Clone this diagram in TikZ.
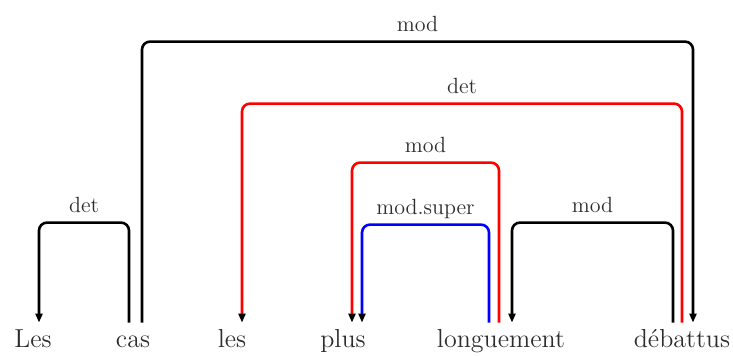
\documentclass[tikz,border=0pt]{standalone}
\usepackage{tikz}
\usetikzlibrary{arrows.meta,positioning}
\definecolor{deptext}{RGB}{45,45,45}
\definecolor{depred}{RGB}{255,0,0}
\definecolor{depblue}{RGB}{0,0,255}

\begin{document}
\begin{tikzpicture}[x=0.5pt, y=-0.5pt,
    word/.style={anchor=base, inner sep=0pt, text height=12.5pt, text=deptext,
                 font=\fontsize{13}{15}\selectfont},
    rel/.style={anchor=base, yshift=5pt, inner sep=0pt, text=deptext,
                font=\fontsize{11}{13}\selectfont},
    arc/.style={line width=1.3pt, rounded corners=4pt,
                -{Triangle[width=3.5pt,length=4.5pt,color=black]}}]

    \useasboundingbox (0,0) rectangle (733,356);

    %% Words
    \node[word] (les1) at (33,348)  {Les};
    \node[word] (cas)  at (133,348) {cas};
    \node[word] (les2) at (232,348) {les};
    \node[word] (plus) at (343,348) {plus};
    \node[word] (longuement) at (501,348) {longuement};
    \node[word] (debattus)   at (682,348) {débattus};

    %% Dependencies
    \draw[arc] ([xshift=-2pt]cas.north) -- ++(0,-100)
      -| node[rel, pos=0.25] (lbdet) {det} ([xshift=3pt]les1.north);
    \draw[arc] ([xshift=4.5pt]cas.north) -- ++(0,-281)
      -| node[rel, pos=0.25] (lbmodtop) {mod} ([xshift=5.5pt]debattus.north);
    \draw[arc, depred] (debattus.north) -- ++(0,-219)
      -| node[rel, pos=0.25] (lbdetred) {det} ([xshift=5pt]les2.north);
    \draw[arc, depred] ([xshift=-1pt]longuement.north) -- ++(0,-160)
      -| node[rel, pos=0.25] (lbmodred) {mod} ([xshift=4.5pt]plus.north);
    \draw[arc, depblue] ([xshift=-6pt]longuement.north) -- ++(0,-98)
      -| node[rel, pos=0.25] (lbsuper) {mod.super} ([xshift=9.5pt]plus.north);
    \draw[arc] ([xshift=-4.5pt]debattus.north) -- ++(0,-100)
      -| node[rel, pos=0.25] (lbmod) {mod} ([xshift=5.5pt]longuement.north);
\end{tikzpicture}
\end{document}
